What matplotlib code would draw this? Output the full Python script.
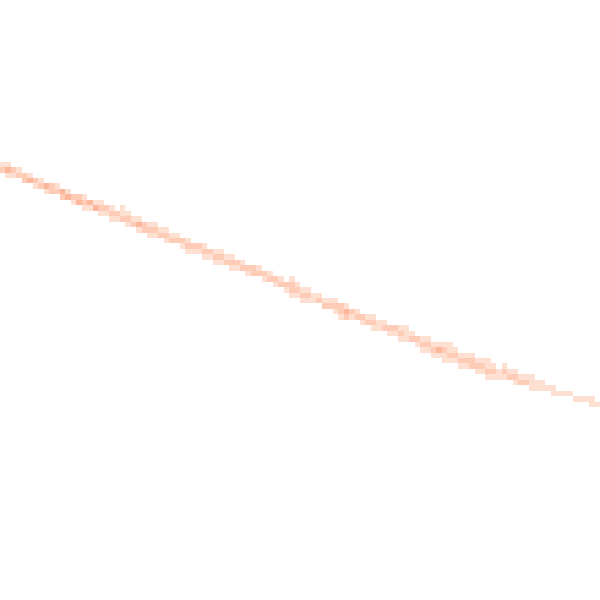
import numpy as np
import matplotlib
matplotlib.use("Agg")
import matplotlib.pyplot as plt

# grid size of the 2d histogram (columns x rows)
n_bins = 110

# per column: first occupied row and the counts going down from it
top_row = [29, 29, 30, 30, 31, 31, 32, 32, 33, 33,
           33, 34, 34, 35, 35, 35, 36, 36, 36, 37,
           37, 38, 37, 38, 39, 39, 40, 40, 40, 41,
           41, 42, 42, 43, 43, 44, 44, 44, 45, 45,
           45, 46, 46, 47, 47, 48, 48, 48, 49, 49,
           50, 50, 51, 50, 51, 52, 52, 53, 53, 54,
           54, 54, 55, 55, 56, 56, 57, 57, 57, 58,
           58, 59, 59, 59, 59, 60, 61, 61, 61, 62,
           62, 62, 62, 63, 64, 64, 64, 65, 65, 65,
           66, 67, 66, 67, 67, 68, 68, 68, 69, 69,
           70, 70, 71, 71, 71, 72, 72, 72, 72, 73]

counts = [[1, 2], [1, 3, 1], [2, 1], [1, 2], [2, 2], [1, 3], [2, 1], [1, 2], [3, 1], [2, 2],
          [1, 2], [3, 2], [1, 3], [2, 1], [2, 3], [1, 2, 1], [3, 1], [1, 3], [1, 2, 1], [2, 1],
          [1, 2, 1], [2, 1], [1, 1, 2], [1, 2, 1], [1, 2], [1, 3, 1], [2, 2], [1, 2, 1], [1, 2, 1], [1, 2],
          [1, 2, 1], [1, 2], [1, 2], [2, 1], [1, 2, 1], [2, 1], [2, 1], [1, 2, 1], [2, 1], [1, 2, 1],
          [1, 2, 1], [1, 2], [1, 2, 1], [2, 1], [1, 2], [2, 1], [2, 2], [1, 2], [2, 1], [1, 2],
          [2, 1], [1, 2], [2, 1], [1, 2, 2, 1], [1, 2, 1], [1, 2, 1], [1, 2, 1], [1, 1], [1, 2], [1, 2],
          [1, 2], [1, 2, 1], [2, 2, 1], [1, 3, 2], [2, 1], [1, 2], [2, 1], [1, 2], [1, 2, 1], [1, 1],
          [1, 2], [2, 1], [2, 1], [1, 2, 1], [1, 1, 1], [1, 2], [2, 1], [1, 2, 1], [1, 2, 1], [1, 2, 1],
          [1, 3, 1], [1, 2, 1, 1], [1, 1, 2, 1], [1, 2, 1], [1, 2, 1], [1, 2, 1], [1, 2, 2], [1, 2, 1], [1, 2, 1], [1, 1, 2, 1],
          [1, 2, 1], [1, 1], [1, 2, 1], [1, 2], [1, 2, 1], [1, 2], [1, 2], [1, 1, 1], [1, 1], [1, 1],
          [1], [1, 1], [1], [1], [1], [1], [1], [1], [1, 1], [1]]

# flatten into cell centres + weights for hist2d
xs, ys, ws = [], [], []
for c, (r0, vals) in enumerate(zip(top_row, counts)):
    for k, v in enumerate(vals):
        xs.append(c + 0.5)
        ys.append(r0 + k + 0.5)
        ws.append(v)

fig = plt.figure(figsize=(6, 6), dpi=100)
ax = fig.add_axes([0, 0, 1, 1])
edges = np.arange(n_bins + 1)
ax.hist2d(xs, ys, bins=[edges, edges], weights=ws, cmap='Reds',
          vmin=-0.8, vmax=13.5, cmin=0.5)
ax.set_xlim(0, n_bins)
ax.set_ylim(n_bins - 0.64, -0.64)
ax.axis('off')

fig.savefig('out.png', dpi=100, facecolor='white')
